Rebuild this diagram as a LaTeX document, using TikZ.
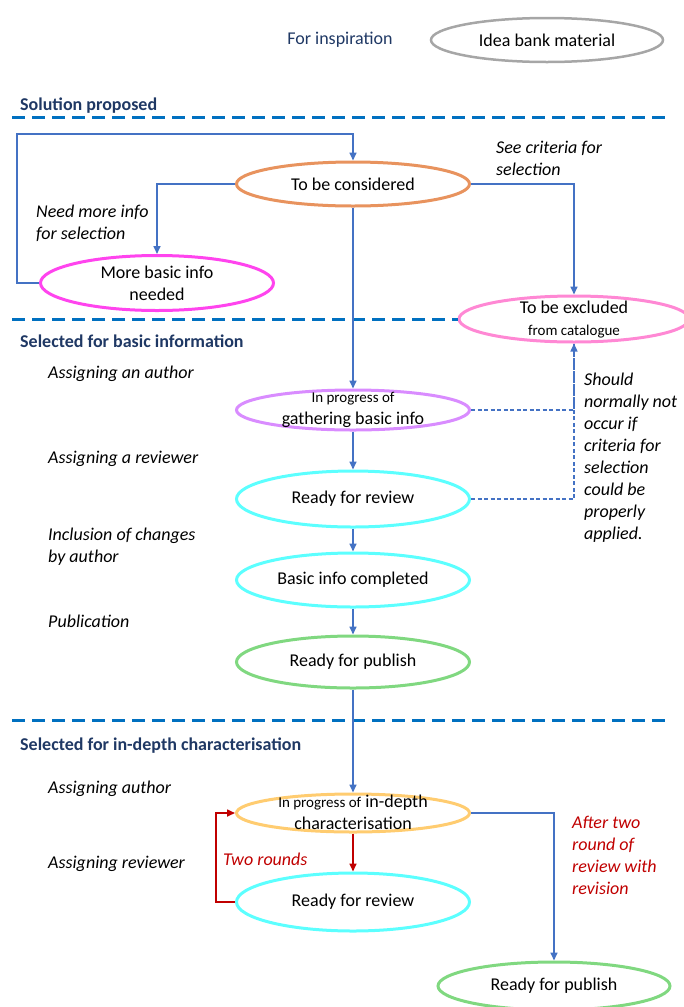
\documentclass[tikz,border=0pt]{standalone}
\usepackage{fontspec}
\setmainfont{Carlito}
\usepackage{xcolor}
\usepackage{tikz}
\usetikzlibrary{arrows.meta,shapes.geometric,positioning,calc}

\definecolor{navy}{HTML}{1F3864}
\definecolor{sepblue}{HTML}{0070C0}
\definecolor{flowblue}{HTML}{4472C4}
\definecolor{flowred}{HTML}{C00000}
\definecolor{cidea}{HTML}{A6A6A6}
\definecolor{cconsider}{HTML}{E8935E}
\definecolor{cmore}{HTML}{FF44EE}
\definecolor{cexclude}{HTML}{FF88D4}
\definecolor{cgather}{HTML}{D98CFF}
\definecolor{creview}{HTML}{5CFFFF}
\definecolor{cpublish}{HTML}{80D880}
\definecolor{cindepth}{HTML}{FFCC70}

\newcommand{\smtext}{\fontsize{15}{18}\selectfont}

\begin{document}
\begin{tikzpicture}[x=1pt, y=-1pt,
	every node/.style={font=\fontsize{18}{22}\selectfont},
	state/.style={draw, ellipse, line width=3pt, fill=white, minimum width=233pt, inner sep=0pt},
	statetext/.style={align=center, inner sep=0pt},
	note/.style={align=left, anchor=west, inner sep=0pt, font=\fontsize{18}{22}\selectfont\itshape},
	head/.style={anchor=west, inner sep=0pt, text=navy, font=\fontsize{18}{22}\selectfont\bfseries},
	sepline/.style={draw=sepblue, line width=3pt, dash pattern=on 13pt off 7pt},
	flow/.style={draw=flowblue, line width=1.6pt, -{Triangle[length=8pt,width=7pt]}},
	redflow/.style={draw=flowred, line width=1.6pt, -{Triangle[length=8pt,width=7pt]}},
	dashflow/.style={draw=flowblue, line width=1.4pt, dash pattern=on 4pt off 2.5pt}]

		\useasboundingbox (0,0) rectangle (683,1007);

		\node[inner sep=0pt, text=navy] (insp) at (340,40) {For inspiration};
		\node[state, draw=cidea, line width=2.5pt, minimum width=232pt, minimum height=44pt] (idea) at (547,40) {};
		\node[statetext] (t-idea) at (idea) {Idea bank material};

		\draw[sepline] (12,117) -- (668,117);
		\node[head] (h-solution) at (20,106) {Solution proposed};

		\node[state, draw=cconsider, minimum height=44pt] (consider) at (353,184) {};
		\node[statetext] (t-consider) at (consider) {To be considered};

		\node[state, draw=cmore, minimum height=55pt] (more) at (157,283) {};
		\node[statetext] (t-more) at (more) {More basic info\\needed};

		\node[note] (n-criteria) at (496,158) {See criteria for\\selection};
		\node[note] (n-needmore) at (36,223) {Need more info\\for selection};

		\node[state, draw=cexclude, minimum width=230pt, minimum height=46pt] (exclude) at (574,319) {};
		\node[statetext] (t-exclude) at (574,320) {To be excluded\\{\smtext from catalogue}};

		\draw[sepline] (12,319) -- (exclude.west);
		\node[head] (h-basic) at (20,341) {Selected for basic information};

		\node[note] (n-author) at (48,374) {Assigning an author};
		\node[state, draw=cgather, minimum height=40pt] (gather) at (353,410) {};
		\node[statetext] (t-gather) at (gather) {{\smtext In progress of}\\gathering basic info};

		\node[note] (n-reviewer) at (48,459) {Assigning a reviewer};
		\node[state, draw=creview, minimum height=56pt] (review) at (353,499) {};
		\node[statetext] (t-review) at (review) {Ready for review};

		\node[note] (n-should) at (584,458) {Should\\normally not\\occur if\\criteria for\\selection\\could be\\properly\\applied.};

		\node[note] (n-changes) at (48,547) {Inclusion of changes\\by author};
		\node[state, draw=creview, minimum height=54pt] (basic) at (353,580) {};
		\node[statetext] (t-basic) at (basic) {Basic info completed};

		\node[note] (n-publication) at (48,621) {Publication};
		\node[state, draw=cpublish, minimum height=52pt] (publish) at (353,662) {};
		\node[statetext] (t-publish) at (publish) {Ready for publish};

		\draw[sepline] (12,720) -- (668,720);
		\node[head] (h-indepth) at (20,746) {Selected for in-depth characterisation};

		\node[note] (n-author2) at (48,789) {Assigning author};
		\node[state, draw=cindepth, minimum height=38pt] (indepth) at (353,813) {};
		\node[statetext] (t-indepth) at (353,812) {{\smtext In progress of} in-depth\\characterisation};

		\node[note] (n-reviewer2) at (48,864) {Assigning reviewer};
		\node[note, text=flowred] (n-rounds) at (223,859) {Two rounds};
		\node[state, draw=creview, minimum height=58pt] (review2) at (353,902) {};
		\node[statetext] (t-review2) at (review2) {Ready for review};

		\node[note, text=flowred] (n-after) at (572,855) {After two\\round of\\review with\\revision};

		\node[state, draw=cpublish, minimum width=232pt, minimum height=48pt] (publish2) at (554,986) {};
		\node[statetext] (t-publish2) at (publish2) {Ready for publish};

		\coordinate (loopcorner) at (17,134);
		\coordinate (redcorner) at (216,856);

		\draw[flow] (more.west) -| (loopcorner) -| (consider.north);
		\draw[flow] (consider.west) -| (more.north);
		\draw[flow] (consider.east) -| (exclude.north);
		\draw[flow] (consider.south) -- (gather.north);
		\draw[flow] (gather.south) -- (review.north);
		\draw[flow] (review.south) -- (basic.north);
		\draw[flow] (basic.south) -- (publish.north);
		\draw[flow] (publish.south) -- (indepth.north);
		\draw[redflow] (indepth.south) -- (review2.north);
		\draw[redflow] (review2.west) -| (redcorner) |- (indepth.west);
		\draw[flow] (indepth.east) -| (publish2.north);

		\draw[dashflow] (gather.east) -| (exclude.south);
		\draw[dashflow, -{Triangle[length=8pt,width=7pt]}] (review.east) -| (exclude.south);
	\end{tikzpicture}
\end{document}
